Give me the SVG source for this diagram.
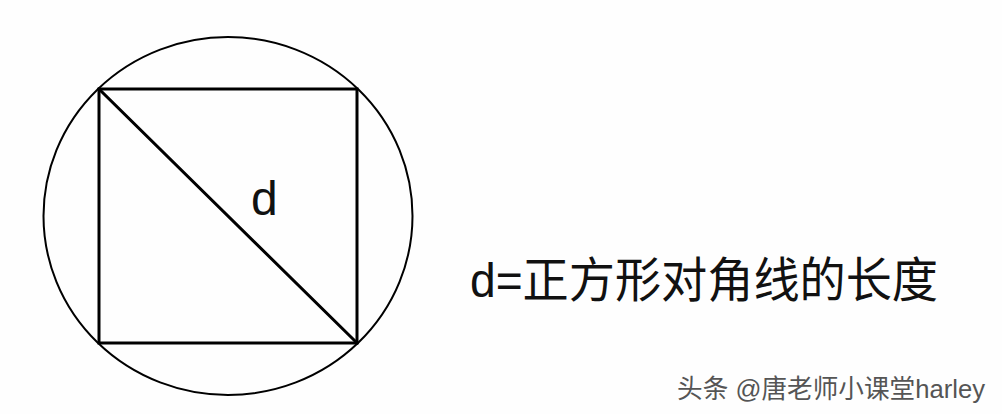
<svg xmlns="http://www.w3.org/2000/svg" width="1002" height="414" viewBox="0 0 1002 414">
<style>
.ln{fill:none;stroke:#000;stroke-linecap:square}
.t{font-family:"Liberation Sans","Noto Sans CJK SC",sans-serif;fill:#111}
</style>
<rect width="1002" height="414" fill="#fefefe"/>
<g id="circle"><ellipse class="ln" cx="228" cy="216" rx="184.5" ry="179" stroke-width="2"/></g>
<g id="square"><rect class="ln" x="99" y="89" width="258" height="254" stroke-width="3"/></g>
<g id="connectors"><line class="ln" x1="99" y1="89" x2="357" y2="343" stroke-width="3"/></g>
<g id="label-d"><text class="t" x="251" y="215" font-size="48">d</text></g>
<g id="caption"><text class="t" x="470" y="297" font-size="48" textLength="468" lengthAdjust="spacingAndGlyphs">d=正方形对角线的长度</text></g>
<g id="watermark"><text class="t" x="677" y="398" font-size="26" textLength="308" lengthAdjust="spacingAndGlyphs" style="fill:#555">头条 @唐老师小课堂harley</text></g>
</svg>
